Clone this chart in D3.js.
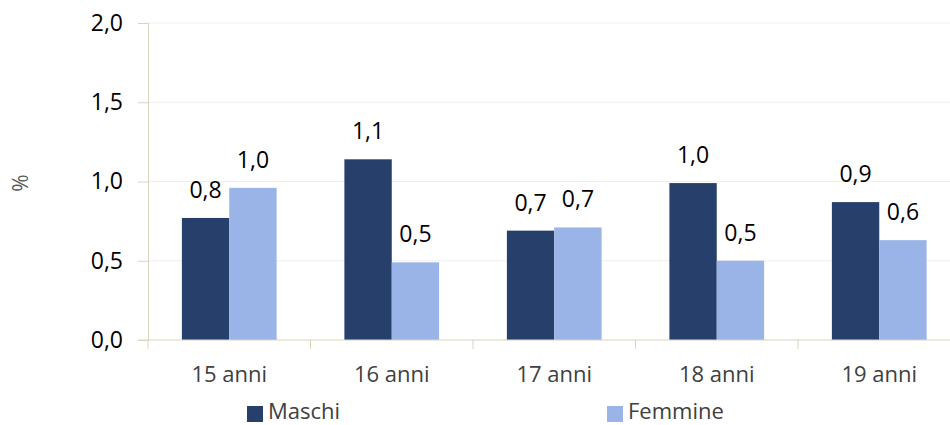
<!DOCTYPE html>
<html>
<head>
<meta charset="utf-8">
<script src="https://cdn.jsdelivr.net/npm/d3@7"></script>
<style>
  html, body { margin: 0; padding: 0; background: #ffffff; }
  svg { display: block; font-family: "Open Sans", sans-serif; }
</style>
</head>
<body>
<svg id="chart" width="950" height="425"></svg>
<script>
// Categories and series
const categories = ["15 anni", "16 anni", "17 anni", "18 anni", "19 anni"];
const seriesNames = ["Maschi", "Femmine"];
const maschi = [0.77, 1.14, 0.69, 0.99, 0.87];
const femmine = [0.96, 0.49, 0.71, 0.50, 0.63];
const yTicks = [0, 0.5, 1.0, 1.5, 2.0];
const colors = ["#273f6b", "#9bb4e8"];

const svg = d3.select("#chart");
const plot = { left: 148, right: 960.5, top: 23, bottom: 340 };

const fmt = v => d3.format(".1f")(v).replace(".", ",");

const y = d3.scaleLinear().domain([0, 2]).range([plot.bottom, plot.top]);
const x = d3.scaleBand().domain(categories).range([plot.left, plot.right])
  .paddingInner(0.417).paddingOuter(0.2085);
const xs = d3.scaleBand().domain(seriesNames).range([0, x.bandwidth()]).padding(0);

// Horizontal gridlines
svg.append("g").selectAll("line")
  .data(yTicks.filter(t => t > 0))
  .join("line")
  .attr("x1", plot.left).attr("x2", 950)
  .attr("y1", d => y(d)).attr("y2", d => y(d))
  .attr("stroke", "#efefef").attr("stroke-width", 1);

// Y axis
const yAxis = svg.append("g")
  .attr("transform", `translate(${plot.left},0)`)
  .call(d3.axisLeft(y).tickValues(yTicks).tickSize(10).tickPadding(15).tickFormat(fmt));
yAxis.select(".domain").attr("stroke", "#d9d4c0");
yAxis.selectAll(".tick line").attr("stroke", "#d9d4c0");
yAxis.selectAll(".tick text")
  .attr("font-family", "'Open Sans', sans-serif")
  .attr("font-size", 23).attr("fill", "#000");

// Bars
const data = categories.map((c, i) => ({ cat: c, values: [
  { name: seriesNames[0], v: maschi[i], color: colors[0] },
  { name: seriesNames[1], v: femmine[i], color: colors[1] }
]}));

const groups = svg.append("g").selectAll("g")
  .data(data).join("g")
  .attr("transform", d => `translate(${x(d.cat)},0)`);

groups.selectAll("rect")
  .data(d => d.values).join("rect")
  .attr("x", d => xs(d.name))
  .attr("width", xs.bandwidth())
  .attr("y", d => y(d.v))
  .attr("height", d => y(0) - y(d.v))
  .attr("fill", d => d.color);

groups.selectAll("text")
  .data(d => d.values).join("text")
  .attr("x", d => xs(d.name) + xs.bandwidth() / 2)
  .attr("y", d => y(d.v) - 20)
  .attr("text-anchor", "middle")
  .attr("font-size", 23)
  .attr("fill", "#000")
  .text(d => fmt(d.v));

// X axis
const xAxisG = svg.append("g").attr("transform", `translate(0,${plot.bottom})`);
xAxisG.append("line")
  .attr("x1", plot.left - 10).attr("x2", 950)
  .attr("stroke", "#d9d4c0");
const boundaries = categories.map(c => x(c) - x.step() * x.paddingOuter());
xAxisG.selectAll("line.tick")
  .data(boundaries).join("line").attr("class", "tick")
  .attr("x1", d => d).attr("x2", d => d)
  .attr("y1", 0).attr("y2", 9)
  .attr("stroke", "#d9d4c0");
xAxisG.selectAll("text")
  .data(categories).join("text")
  .attr("x", d => x(d) + x.bandwidth() / 2)
  .attr("y", 42)
  .attr("text-anchor", "middle")
  .attr("font-size", 22)
  .attr("fill", "#404040")
  .text(d => d);

// Y axis title
svg.append("text")
  .attr("transform", "translate(28,183) rotate(-90)")
  .attr("text-anchor", "middle")
  .attr("font-size", 21)
  .attr("fill", "#595959")
  .text("%");

// Legend
const legendX = [247, 607];
const legend = svg.append("g").selectAll("g")
  .data(seriesNames).join("g")
  .attr("transform", (d, i) => `translate(${legendX[i]},406)`);
legend.append("rect")
  .attr("width", 16).attr("height", 16)
  .attr("fill", (d, i) => colors[i]);
legend.append("text")
  .attr("x", 21).attr("y", 13)
  .attr("font-size", 22)
  .attr("fill", "#404040")
  .text(d => d);
</script>
</body>
</html>
